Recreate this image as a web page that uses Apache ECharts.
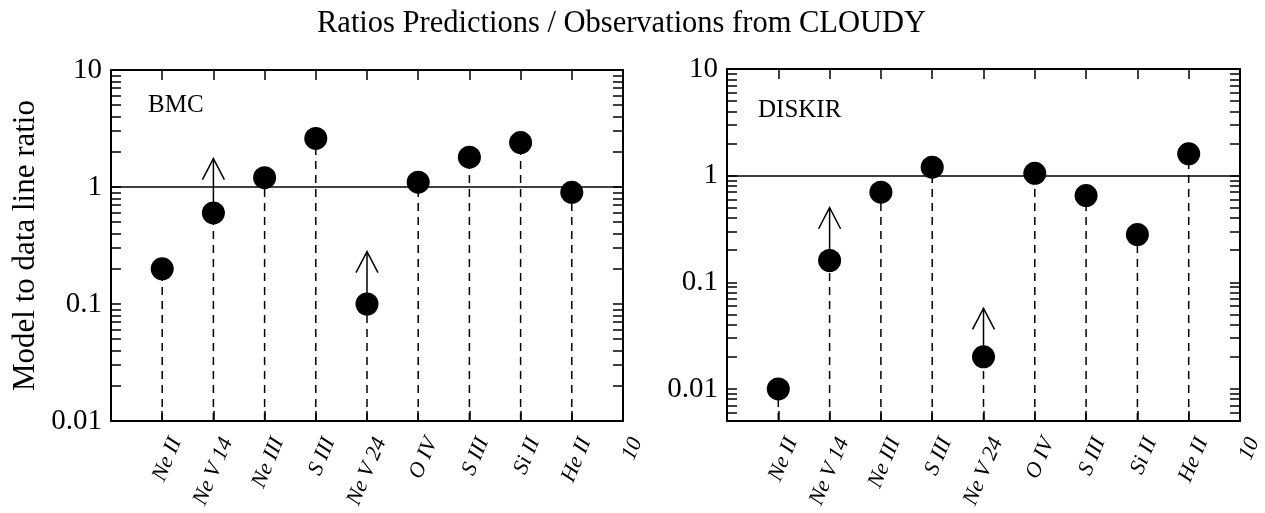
<!DOCTYPE html>
<html><head><meta charset="utf-8">
<script src="https://cdn.jsdelivr.net/npm/echarts@6/dist/echarts.min.js"></script>
<style>html,body{margin:0;padding:0;background:#fff}#c{width:1265px;height:513px}</style>
</head><body><div id="c"></div>
<script>
// ---- data ----
const lineNames = ['Ne II','Ne V 14','Ne III','S III','Ne V 24','O IV','S III','Si II','He II'];
const positions = [1,2,3,4,5,6,7,8,9];
const xTickLabels = ['', 'Ne II','Ne V 14','Ne III','S III','Ne V 24','O IV','S III','Si II','He II','10'];
const bmcRatio = [0.2,0.6,1.2,2.6,0.1,1.1,1.8,2.4,0.9];
const bmcArrowTip = [null,1.75,null,null,0.28,null,null,null,null];
const diskirRatio = [0.01,0.16,0.7,1.2,0.02,1.05,0.65,0.28,1.6];
const diskirArrowTip = [null,0.5,null,null,0.057,null,null,null,null];
const yLabelsBMC = [0.01,0.1,1,10];
const yLabelsDISKIR = [0.01,0.1,1,10];
const yRangeBMC = [0.01,10];
const yRangeDISKIR = [0.005,10];
const panelNames = ['BMC','DISKIR'];

const FONT = 'Liberation Serif';

function minorTicks(min, max){
  const out = [];
  for (let e = -4; e <= 2; e++){
    const d = Math.pow(10, e);
    for (let k = 1; k <= 9; k++){
      const v = Number((k*d).toPrecision(3));
      if (v >= min - 1e-12 && v <= max + 1e-12) out.push(v);
    }
  }
  return out;
}

function dropItem(params, api){
  const p = api.coord([api.value(0), api.value(1)]);
  const cs = params.coordSys;
  return {type:'line', shape:{x1:p[0], y1:cs.y+cs.height, x2:p[0], y2:p[1]},
    style:{stroke:'#000', lineWidth:1.5, lineDash:[8,6]}};
}
function arrowItem(params, api){
  const p0 = api.coord([api.value(0), api.value(1)]);
  const p1 = api.coord([api.value(0), api.value(2)]);
  return {type:'group', children:[
    {type:'line', shape:{x1:p0[0],y1:p0[1],x2:p1[0],y2:p1[1]}, style:{stroke:'#000',lineWidth:1.5}},
    {type:'polyline', shape:{points:[[p1[0]-11,p1[1]+21],[p1[0],p1[1]],[p1[0]+11,p1[1]+21]]},
      style:{stroke:'#000',fill:null,lineWidth:1.5}}
  ]};
}

const grids = [
  {left:111, top:70, width:512, height:351, outerBoundsMode:'none', containLabel:false},
  {left:727, top:69, width:513, height:352, outerBoundsMode:'none', containLabel:false}
];

const xAxes = [], yAxes = [], series = [];
const ranges = [yRangeBMC, yRangeDISKIR];
const labelSets = [yLabelsBMC, yLabelsDISKIR];
const ratios = [bmcRatio, diskirRatio];
const tips = [bmcArrowTip, diskirArrowTip];

for (let g = 0; g < 2; g++){
  // bottom x
  xAxes.push({gridIndex:g, type:'value', min:0, max:10, interval:1, position:'bottom',
    axisLine:{onZero:false, lineStyle:{color:'#000', width:2}},
    axisTick:{inside:true, length:10, lineStyle:{color:'#000', width:1.5}},
    splitLine:{show:false},
    axisLabel:{rotate:67, margin:12, verticalAlign:'top', lineHeight:30, color:'#000', fontFamily:FONT, fontSize:22, fontStyle:'italic',
      formatter:(v)=> xTickLabels[Math.round(v)] || ''}
  });
  // top x
  xAxes.push({gridIndex:g, type:'value', min:0, max:10, interval:1, position:'top',
    axisLine:{onZero:false, lineStyle:{color:'#000', width:2}},
    axisTick:{inside:true, length:10, lineStyle:{color:'#000', width:1.5}},
    splitLine:{show:false}, axisLabel:{show:false}
  });
  const r = ranges[g];
  const ticks = minorTicks(r[0], r[1]);
  yAxes.push({gridIndex:g, type:'log', logBase:10, min:r[0], max:r[1], position:'left',
    name: g===0 ? 'Model to data line ratio' : '',
    nameLocation:'middle', nameGap:70,
    nameTextStyle:{color:'#000', fontFamily:FONT, fontSize:31},
    axisLine:{show:true, onZero:false, lineStyle:{color:'#000', width:2}},
    axisTick:{inside:true, length:10, customValues:ticks, lineStyle:{color:'#000', width:1.5}},
    splitLine:{show:false},
    axisLabel:{customValues:labelSets[g], margin:9, color:'#000', fontFamily:FONT, fontSize:29,
      formatter:(v)=> String(Number(v.toPrecision(3)))}
  });
  yAxes.push({gridIndex:g, type:'log', logBase:10, min:r[0], max:r[1], position:'right',
    axisLine:{show:true, onZero:false, lineStyle:{color:'#000', width:2}},
    axisTick:{inside:true, length:10, customValues:ticks, lineStyle:{color:'#000', width:1.5}},
    splitLine:{show:false}, axisLabel:{show:false}
  });

  const pts = positions.map((p,i)=>[p, ratios[g][i]]);
  const arrows = [];
  positions.forEach((p,i)=>{ if (tips[g][i] != null) arrows.push([p, ratios[g][i], tips[g][i]]); });

  series.push({type:'custom', xAxisIndex:2*g, yAxisIndex:2*g, z:1, renderItem:dropItem, data:pts, silent:true});
  series.push({type:'custom', xAxisIndex:2*g, yAxisIndex:2*g, z:2, renderItem:arrowItem, data:arrows, silent:true});
  series.push({type:'scatter', xAxisIndex:2*g, yAxisIndex:2*g, z:3, symbol:'circle', symbolSize:23,
    itemStyle:{color:'#000', opacity:1}, data:pts,
    markLine:{silent:true, symbol:'none', label:{show:false},
      lineStyle:{color:'#000', width:1.5, type:'solid'}, data:[{yAxis:1}]}
  });
}

const chart = echarts.init(document.getElementById('c'), null, {renderer:'canvas'});
chart.setOption({
  animation:false,
  backgroundColor:'#fff',
  title:{text:'Ratios Predictions / Observations from CLOUDY', left:312, top:3,
    textStyle:{color:'#000', fontFamily:FONT, fontSize:30.5, fontWeight:'normal'}},
  grid: grids,
  xAxis: xAxes,
  yAxis: yAxes,
  series: series,
  graphic:[
    {type:'text', left:148, top:93, style:{text:panelNames[0], fill:'#000', font:'25px "Liberation Serif"'}},
    {type:'text', left:758, top:98, style:{text:panelNames[1], fill:'#000', font:'25px "Liberation Serif"'}}
  ]
});
</script>
</body></html>
